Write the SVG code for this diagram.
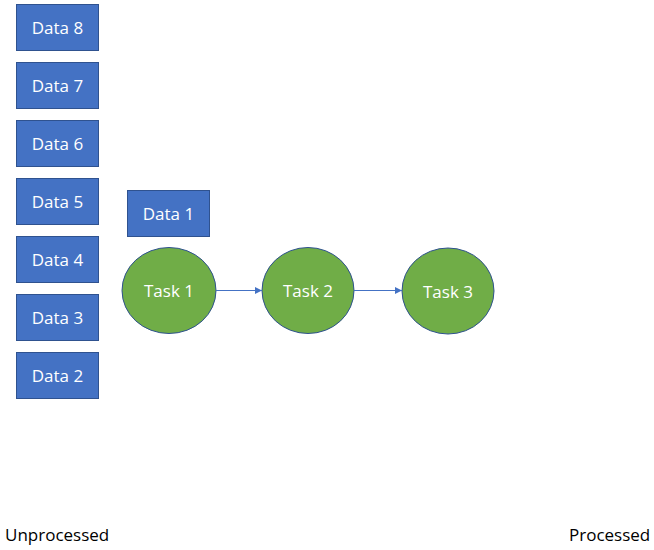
<svg xmlns="http://www.w3.org/2000/svg" width="654" height="550" viewBox="0 0 654 550">
<style>
.box{fill:#4472C4;stroke:#2F528F;stroke-width:1}
.task{fill:#70AD47;stroke:#2F528F;stroke-width:1}
.lbl{font-family:"Open Sans","Liberation Sans",sans-serif;font-size:17px;fill:#FFFFFF;text-anchor:middle;dominant-baseline:central}
.cap{font-family:"Open Sans","Liberation Sans",sans-serif;font-size:17px;fill:#000000}
.conn{stroke:#4472C4;stroke-width:1;fill:none;marker-end:url(#ah)}
</style>
<defs>
<marker id="ah" viewBox="0 0 10 10" refX="10" refY="5" markerWidth="7" markerHeight="7" markerUnits="userSpaceOnUse" orient="auto">
<path d="M0,0 L10,5 L0,10 z" fill="#4472C4"/>
</marker>
</defs>
<rect width="654" height="550" fill="#FFFFFF"/>
<g id="data8"><rect class="box" x="16.5" y="4.5" width="82" height="46"/><text class="lbl" x="57.5" y="27">Data 8</text></g>
<g id="data7"><rect class="box" x="16.5" y="62.5" width="82" height="46"/><text class="lbl" x="57.5" y="85">Data 7</text></g>
<g id="data6"><rect class="box" x="16.5" y="120.5" width="82" height="46"/><text class="lbl" x="57.5" y="143">Data 6</text></g>
<g id="data5"><rect class="box" x="16.5" y="178.5" width="82" height="46"/><text class="lbl" x="57.5" y="201">Data 5</text></g>
<g id="data4"><rect class="box" x="16.5" y="236.5" width="82" height="46"/><text class="lbl" x="57.5" y="259">Data 4</text></g>
<g id="data3"><rect class="box" x="16.5" y="294.5" width="82" height="46"/><text class="lbl" x="57.5" y="317">Data 3</text></g>
<g id="data2"><rect class="box" x="16.5" y="352.5" width="82" height="46"/><text class="lbl" x="57.5" y="375">Data 2</text></g>
<g id="data1"><rect class="box" x="127.5" y="190.5" width="82" height="46"/><text class="lbl" x="168.5" y="213">Data 1</text></g>
<g id="task1"><ellipse class="task" cx="169" cy="290.5" rx="47" ry="43"/><text class="lbl" x="169" y="290">Task 1</text></g>
<g id="task2"><ellipse class="task" cx="308" cy="290.5" rx="46" ry="43"/><text class="lbl" x="308" y="290">Task 2</text></g>
<g id="task3"><ellipse class="task" cx="448" cy="291" rx="46" ry="43"/><text class="lbl" x="448" y="291">Task 3</text></g>
<g id="connectors">
<line class="conn" x1="216" y1="290.5" x2="262" y2="290.5"/>
<line class="conn" x1="354" y1="290.5" x2="402" y2="290.5"/>
</g>
<text class="cap" x="5" y="541">Unprocessed</text>
<text class="cap" x="569" y="541">Processed</text>
</svg>
